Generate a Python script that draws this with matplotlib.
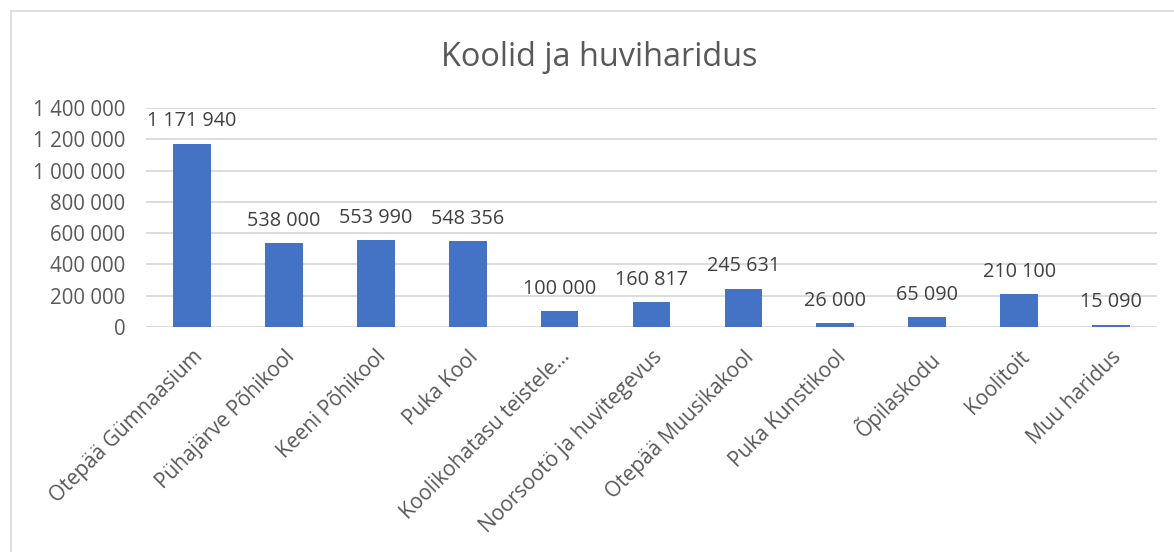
import matplotlib
matplotlib.use("Agg")
import matplotlib.pyplot as plt
from matplotlib.lines import Line2D

categories = ["Otepää Gümnaasium", "Pühajärve Põhikool", "Keeni Põhikool", "Puka Kool",
              "Koolikohatasu teistele…", "Noorsootö ja huvitegevus", "Otepää Muusikakool",
              "Puka Kunstikool", "Õpilaskodu", "Koolitoit", "Muu haridus"]
values = [1171940, 538000, 553990, 548356, 100000, 160817, 245631, 26000, 65090, 210100, 15090]
yticks = [0, 200000, 400000, 600000, 800000, 1000000, 1200000, 1400000]
title = "Koolid ja huviharidus"

def fmt(v):
    return f"{v:,}".replace(",", " ")

plt.rcParams['font.family'] = ['Open Sans', 'DejaVu Sans']

W, H = 1174, 552
fig = plt.figure(figsize=(W / 100, H / 100), dpi=100)
ax = fig.add_axes([146 / W, (H - 327) / H, (1157 - 146) / W, (327 - 108) / H])

x = list(range(len(categories)))
ax.bar(x, values, width=0.41, color="#4472C4", zorder=3)
ax.set_xlim(-0.5, len(categories) - 0.5)
ax.set_ylim(0, 1400000)
ax.set_yticks(yticks)
ax.set_yticklabels([fmt(v) for v in yticks], color="#595959", fontsize=14.8)
ax.set_xticks(x)
ax.set_xticklabels(categories, rotation=45, ha="right", rotation_mode="anchor",
                   color="#595959", fontsize=15)
ax.tick_params(axis="both", length=0)
ax.tick_params(axis="y", pad=15)
ax.tick_params(axis="x", pad=14)
ax.grid(axis="y", color="#D9D9D9", linewidth=1.3, zorder=0)
for s in ax.spines.values():
    s.set_visible(False)

for xi, v in zip(x, values):
    ax.annotate(fmt(v), (xi, v), xytext=(0, 16), textcoords="offset points",
                ha="center", va="center", fontsize=14.3, color="#404040")

fig.text(599 / W, 1 - 58 / H, title, ha="center", va="center", fontsize=23.4, color="#595959")

fig.add_artist(Line2D([11 / W, 1], [1 - 11 / H, 1 - 11 / H], color="#D9D9D9", linewidth=1.2,
                      transform=fig.transFigure))
fig.add_artist(Line2D([11 / W, 11 / W], [0, 1 - 11 / H], color="#D9D9D9", linewidth=1.2,
                      transform=fig.transFigure))

fig.savefig("out.png", dpi=100)
